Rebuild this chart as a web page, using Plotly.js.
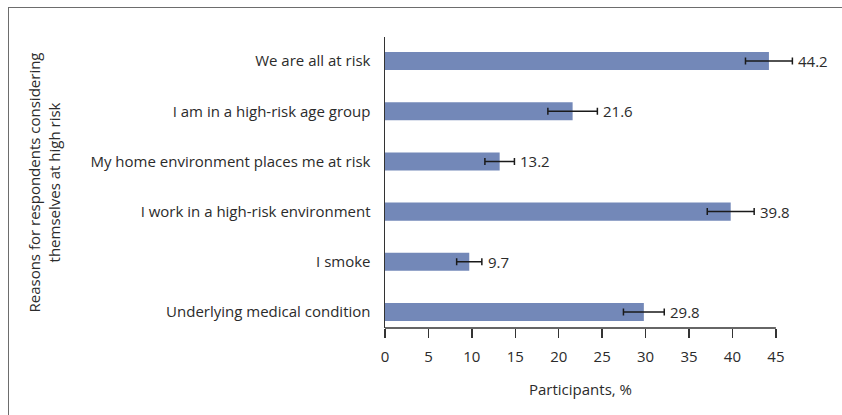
<!DOCTYPE html>
<html>
<head>
<meta charset="utf-8">
<script src="https://cdn.plot.ly/plotly-3.0.1.min.js"></script>
<style>
  html, body { margin: 0; padding: 0; background: #fff; overflow: hidden; width: 842px; height: 415px; }
  #frame { position: absolute; left: 8px; top: 7px; width: 840px; height: 420px; box-sizing: border-box;
           border-top: 1.5px solid #6d6d6d; border-left: 1.5px solid #6d6d6d; }
  #chart { position: absolute; left: 0; top: 0; width: 842px; height: 415px; }
</style>
</head>
<body>
<div id="frame"></div>
<div id="chart"></div>
<script>
const categories = [
  "Underlying medical condition",
  "I smoke",
  "I work in a high-risk environment",
  "My home environment places me at risk",
  "I am in a high-risk age group",
  "We are all at risk"
];
const values = [29.8, 9.7, 39.8, 13.2, 21.6, 44.2];
const errors = [2.35, 1.45, 2.7, 1.7, 2.85, 2.7];
const xTicks = [0, 5, 10, 15, 20, 25, 30, 35, 40, 45];
const xTitle = "Participants, %";
const yTitle = "Reasons for respondents considering<br>themselves at high risk";

const FONT = "Open Sans, sans-serif";
const TXT = "#2b2b2b";
const AXC = "#333";

const bars = {
  type: "bar",
  orientation: "h",
  x: values,
  y: categories,
  width: 0.36,
  marker: { color: "#7388b8" },
  error_x: { type: "data", array: errors, visible: true, color: "#1a1a1a", thickness: 1.5, width: 3.5 },
  hoverinfo: "none"
};

const xMin = xTicks[0], xMax = xTicks[xTicks.length - 1];

const annotations = values.map((v, i) => ({
  x: v + errors[i], y: categories[i], xref: "x", yref: "y",
  text: v.toFixed(1), showarrow: false, xanchor: "left", yanchor: "middle",
  xshift: 4, font: { family: FONT, size: 15, color: TXT }
}));
annotations.push({
  x: (xMin + xMax) / 2, y: 0, xref: "x", yref: "paper",
  text: xTitle, showarrow: false, xanchor: "center", yanchor: "middle",
  yshift: -61, font: { family: FONT, size: 15, color: TXT }
});

const layout = {
  width: 842, height: 415,
  margin: { l: 385, r: 14, t: 37, b: 87, pad: 0 },
  paper_bgcolor: "rgba(0,0,0,0)", plot_bgcolor: "rgba(0,0,0,0)",
  showlegend: false,
  font: { family: FONT, size: 14, color: TXT },
  xaxis: {
    range: [0, 51], tickvals: xTicks, ticktext: xTicks.map(String),
    showgrid: false, zeroline: false, showline: false,
    ticks: "outside", ticklen: 9, tickwidth: 1.5, tickcolor: AXC,
    tickfont: { family: FONT, size: 15, color: TXT }, ticklabelstandoff: 6,
    fixedrange: true
  },
  yaxis: {
    type: "category", categoryorder: "array", categoryarray: categories,
    range: [-0.32, 5.48],
    showgrid: false, zeroline: false, showline: true, linecolor: AXC, linewidth: 1.5,
    ticks: "", tickfont: { family: FONT, size: 15, color: TXT }, ticklabelstandoff: 10,
    title: { text: yTitle, font: { family: FONT, size: 15, color: TXT }, standoff: 26 },
    fixedrange: true
  },
  shapes: [{
    type: "line", xref: "x", yref: "paper", x0: xMin, x1: xMax, y0: 0, y1: 0,
    line: { color: AXC, width: 1.5 }, layer: "above"
  }],
  annotations: annotations
};

Plotly.newPlot("chart", [bars], layout, { displayModeBar: false, staticPlot: true });
</script>
</body>
</html>
